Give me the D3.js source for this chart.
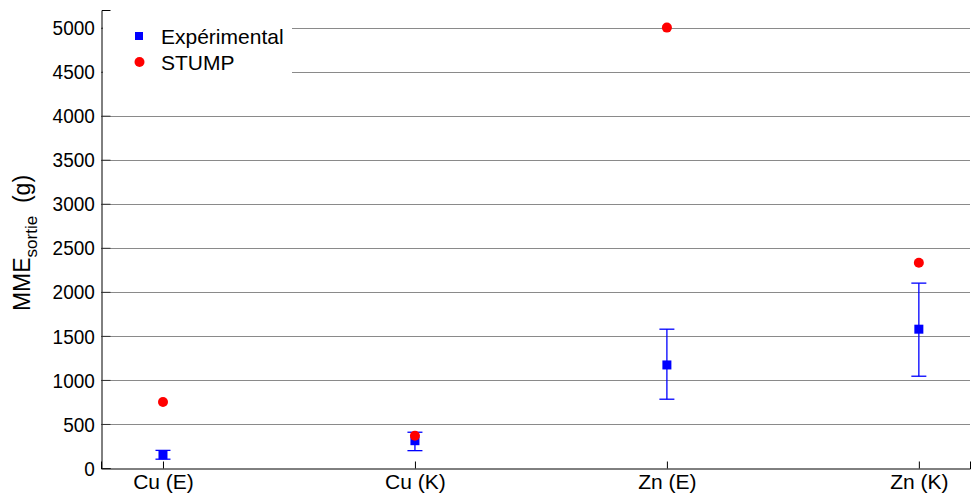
<!DOCTYPE html>
<html><head><meta charset="utf-8">
<script src="https://cdn.jsdelivr.net/npm/d3@7"></script>
<style>body{margin:0;background:#fff}svg{display:block}</style>
</head><body><svg id="c" width="973" height="495"></svg>
<script>
const categories = ["Cu (E)", "Cu (K)", "Zn (E)", "Zn (K)"];
const expValues = [150, 310, 1170, 1576];
const expLow = [100, 197, 781, 1042];
const expHigh = [200, 406, 1576, 2099];
const stumpValues = [750, 367, 5000, 2330];
const yTicks = [0,500,1000,1500,2000,2500,3000,3500,4000,4500,5000];

const svg = d3.select("#c");
const font = "'Liberation Sans', Arial, sans-serif";
const x = d3.scaleLinear().domain([0.754, 4.203]).range([101, 970]);
const y = d3.scaleLinear().domain([0, 5200]).range([468, 10]);

// gridlines
svg.append("g").selectAll("line").data(yTicks.filter(d=>d>0)).join("line")
  .attr("x1",101).attr("x2",970).attr("y1",d=>Math.round(y(d))+0.5).attr("y2",d=>Math.round(y(d))+0.5)
  .attr("stroke","#8a8a8a").attr("stroke-width",1);

// y axis
const ya = svg.append("g").attr("transform","translate(101.5,0)")
  .call(d3.axisLeft(y).tickValues(yTicks).tickSize(-9).tickPadding(7).tickFormat(d3.format("d")));
ya.select(".domain").attr("stroke","#000");
ya.selectAll(".tick line").attr("stroke","#333");
ya.selectAll("text").attr("font-family",font).attr("font-size",20).attr("fill","#000")
  .attr("transform","scale(0.95,1.05)").attr("dy","0.34em");

// x axis
const xa = svg.append("g").attr("transform","translate(0,468.5)")
  .call(d3.axisBottom(x).tickValues([1,2,3,4]).tickSize(-7).tickPadding(6).tickFormat((d,i)=>categories[i]));
xa.select(".domain").attr("stroke","#000");
xa.selectAll(".tick line").attr("stroke","#000");
xa.selectAll("text").attr("font-family",font).attr("font-size",21).attr("fill","#000");

// legend background
svg.append("rect").attr("x",103).attr("y",12).attr("width",189).attr("height",66).attr("fill","#fff");

// error bars
const eg = svg.append("g").attr("stroke","#0000ff").attr("stroke-width",1.3);
categories.forEach((c,i)=>{
  const cx = x(i+1);
  eg.append("line").attr("x1",cx).attr("x2",cx).attr("y1",y(expLow[i])).attr("y2",y(expHigh[i]));
  [expLow[i],expHigh[i]].forEach(v=>{
    eg.append("line").attr("x1",cx-7.5).attr("x2",cx+7.5).attr("y1",y(v)).attr("y2",y(v));
  });
});

// experimental squares
svg.append("g").selectAll("rect").data(expValues).join("rect")
  .attr("x",(d,i)=>x(i+1)-4.5).attr("y",d=>y(d)-4.5).attr("width",9).attr("height",9).attr("fill","#0000ff");

// stump circles
svg.append("g").selectAll("circle").data(stumpValues).join("circle")
  .attr("cx",(d,i)=>x(i+1)).attr("cy",d=>y(d)).attr("r",5).attr("fill","#ff0000");

// legend
svg.append("rect").attr("x",135).attr("y",32).attr("width",8).attr("height",8).attr("fill","#0000ff");
svg.append("circle").attr("cx",139.5).attr("cy",62).attr("r",5).attr("fill","#ff0000");
svg.append("text").attr("x",161).attr("y",44).attr("font-family",font).attr("font-size",21).text("Expérimental");
svg.append("text").attr("x",161).attr("y",70).attr("font-family",font).attr("font-size",21).text("STUMP");

// y label
const yl = svg.append("text").attr("transform","translate(30,243) rotate(-90)")
  .attr("text-anchor","middle").attr("font-family",font).attr("font-size",23);
yl.append("tspan").text("MME");
yl.append("tspan").attr("dy",7).attr("font-size",17).text("sortie");
yl.append("tspan").attr("dy",-7).attr("xml:space","preserve").style("white-space","pre").text("  (g)");
</script></body></html>
